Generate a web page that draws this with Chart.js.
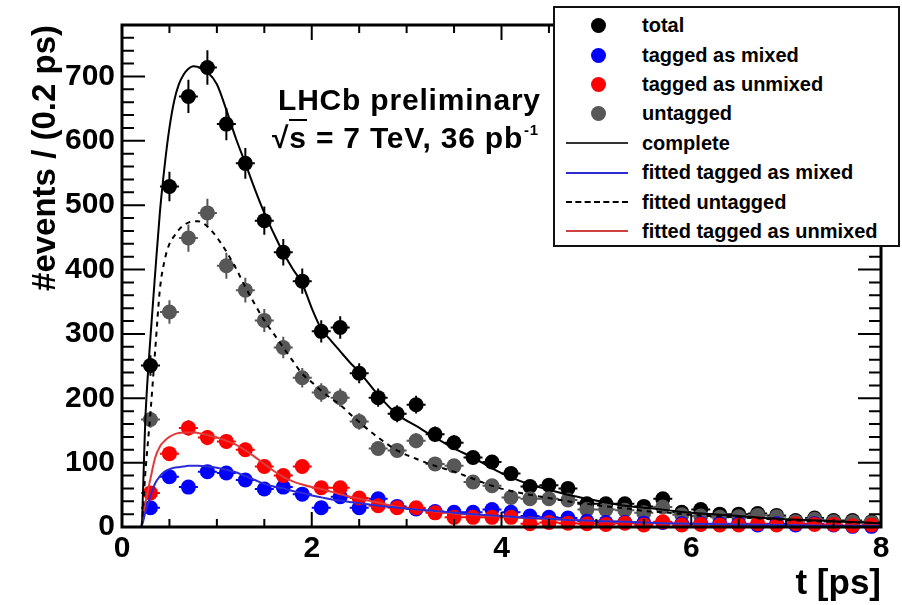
<!DOCTYPE html>
<html>
<head>
<meta charset="utf-8">
<title>Decay time distribution</title>
<script src="https://cdn.jsdelivr.net/npm/chart.js@4.4.0/dist/chart.umd.min.js"></script>
<style>
  body { margin: 0; background: #fff; }
  #wrap {
    position: relative; width: 902px; height: 605px;
    font-family: 'Liberation Sans', Arial, sans-serif; font-weight: bold; color: #000;
  }
  #chart { position: absolute; left: 0; top: 0; }
  .label { position: absolute; font-size: 30px; line-height: 30px; white-space: nowrap; letter-spacing: 0.8px; }
  .ov { border-top: 2.5px solid #000; }
  .sup { position: relative; top: -13px; font-size: 15px; margin-left: 1px; }
  #legend {
    position: absolute; left: 553px; top: 6px; width: 347px; height: 241px;
    box-sizing: border-box; border: 2px solid #111; background: #fff; padding-top: 3px;
  }
  .row { height: 29.4px; display: flex; align-items: center; font-size: 20px; white-space: nowrap; }
  .sym { width: 87px; height: 100%; position: relative; flex: none; }
  .dot { position: absolute; left: 36px; top: 50%; width: 15px; height: 15px; margin-top: -7.5px; border-radius: 50%; }
  .ln { position: absolute; left: 11px; width: 62px; top: 50%; margin-top: -1px; border-top: 2px solid; }
</style>
</head>
<body>
<div id="wrap">
  <canvas id="chart" width="902" height="605"></canvas>
  <div class="label" style="left:278px; top:85px;">LHCb preliminary</div>
  <div class="label" style="left:272px; top:123px;">√<span class="ov">s</span> = 7 TeV, 36 pb<span class="sup">-1</span></div>
  <div id="legend"></div>
</div>
<script>
// ---- Data ----
const binWidth = 0.2; // ps
const binCentres = [0.3, 0.5, 0.7, 0.9, 1.1, 1.3, 1.5, 1.7, 1.9, 2.1, 2.3, 2.5, 2.7, 2.9, 3.1, 3.3, 3.5, 3.7, 3.9, 4.1,
    4.3, 4.5, 4.7, 4.9, 5.1, 5.3, 5.5, 5.7, 5.9, 6.1, 6.3, 6.5, 6.7, 6.9, 7.1, 7.3, 7.5, 7.7, 7.9];

const totalEvents = [251, 529, 669, 714, 626, 565, 476, 427, 382, 304, 310, 239, 201, 176, 190, 144, 131, 108, 101, 83,
    63, 65, 60, 36, 36, 36, 32, 44, 23, 27, 20, 20, 21, 18, 10, 14, 10, 10, 8];
const mixedEvents = [30, 78, 62, 86, 84, 73, 59, 62, 51, 30, 47, 30, 44, 32, 28, 24, 23, 23, 27, 23,
    17, 15, 14, 9, 7, 7, 6, 7, 5, 5, 5, 5, 3, 5, 3, 5, 3, 1, 1];
const unmixedEvents = [53, 114, 154, 139, 133, 120, 94, 80, 94, 61, 61, 45, 33, 30, 30, 22, 15, 15, 15, 15,
    5, 7, 6, 5, 4, 6, 3, 8, 3, 4, 3, 3, 5, 3, 5, 4, 4, 2, 3];
const untaggedEvents = [167, 334, 449, 488, 406, 368, 321, 279, 232, 209, 201, 164, 122, 119, 134, 98, 95, 70, 64, 46,
    44, 44, 42, 27, 27, 26, 22, 31, 19, 17, 15, 16, 18, 16, 8, 12, 8, 8, 7];

// fitted curves
const fitTimes = [0, 0.2, 0.25, 0.3, 0.35, 0.4, 0.45, 0.5, 0.55, 0.6, 0.65, 0.7, 0.75, 0.8, 0.9, 1.0, 1.1, 1.2, 1.3, 1.4,
    1.5, 1.6, 1.7, 1.8, 1.9, 2.0, 2.1, 2.2, 2.3, 2.4, 2.5, 2.7, 2.9, 3.1, 3.3, 3.5, 3.7, 3.9, 4.1, 4.3,
    4.5, 4.7, 4.9, 5.1, 5.3, 5.5, 5.7, 6.0, 6.5, 7.0, 7.5, 8.0];
const fitComplete = [0, 0, 180, 295, 395, 490, 562, 620, 662, 688, 703, 712, 716, 715, 707, 688, 648, 604, 565, 525,
    488, 456, 426, 401, 378, 340, 308, 290, 273, 256, 241, 205, 175, 157, 139, 122, 108, 91, 77, 66,
    58, 50, 44, 38, 33, 30, 27, 22, 17, 12, 9, 6];
const fitMixed = [0, 0, 25, 48, 68, 79, 86, 90, 92, 93, 94, 95, 95, 95, 94, 92, 89, 85, 79, 73,
    67, 63, 60, 56, 53, 49, 46, 43, 41, 39, 37, 33, 30, 27, 25, 22, 20, 18, 16, 14,
    13, 11, 10, 9, 8, 7, 6, 5, 4, 3, 2, 2];
const fitUntagged = [0, 0, 92, 178, 275, 370, 415, 440, 452, 462, 469, 473, 475, 475, 467, 450, 428, 402, 373, 346,
    321, 300, 279, 258, 238, 225, 212, 200, 190, 176, 163, 139, 119, 106, 95, 86, 75, 64, 56, 50,
    45, 40, 36, 32, 29, 25, 23, 19, 15, 11, 8, 6];
const fitUnmixed = [0, 0, 40, 75, 108, 125, 134, 140, 144, 146, 147, 147, 147, 146, 143, 139, 134, 128, 119, 109,
    98, 87, 78, 71, 66, 62, 59, 55, 51, 47, 44, 38, 31, 27, 24, 21, 19, 17, 15, 14,
    12, 11, 10, 9, 8, 7, 6, 5, 4, 3, 2, 2];

const yTickLabels = ['0', '100', '200', '300', '400', '500', '600', '700'];
const xTickLabels = ['0', '2', '4', '6', '8'];

// ---- Helpers ----
const toPoints = (xs, ys) => xs.map((x, i) => ({ x: x, y: ys[i] }));

const pointSet = (label, values, color, order) => ({
    label: label,
    data: toPoints(binCentres, values),
    backgroundColor: color,
    pointBackgroundColor: color,
    pointBorderWidth: 0,
    pointRadius: 7.5,
    showLine: false,
    errorBars: true,
    clip: false,
    order: order
});

const curveSet = (label, values, color, dash, order) => ({
    label: label,
    data: toPoints(fitTimes, values),
    borderColor: color,
    borderWidth: 2,
    borderDash: dash,
    pointRadius: 0,
    showLine: true,
    cubicInterpolationMode: 'monotone',
    order: order
});

// ---- Plugins ----
// sqrt(N) vertical bars and half-bin horizontal bars, drawn under each marker set
const errorBars = {
    id: 'errorBars',
    beforeDatasetDraw(chart, args) {
        const ds = chart.data.datasets[args.index];
        if (!ds.errorBars) return;
        const { ctx, scales: { x, y } } = chart;
        ctx.save();
        ctx.strokeStyle = ds.backgroundColor;
        ctx.lineWidth = 2;
        ctx.beginPath();
        ds.data.forEach(p => {
            const err = Math.sqrt(p.y);
            const px = x.getPixelForValue(p.x);
            const py = y.getPixelForValue(p.y);
            ctx.moveTo(px, y.getPixelForValue(p.y - err));
            ctx.lineTo(px, y.getPixelForValue(p.y + err));
            ctx.moveTo(x.getPixelForValue(p.x - binWidth / 2), py);
            ctx.lineTo(x.getPixelForValue(p.x + binWidth / 2), py);
        });
        ctx.stroke();
        ctx.restore();
    }
};

// ROOT-like frame with inward ticks on all four sides
const rootFrame = {
    id: 'rootFrame',
    afterDatasetsDraw(chart) {
        const { ctx, chartArea: a, scales: { x, y } } = chart;
        ctx.save();
        ctx.strokeStyle = '#000';
        ctx.lineWidth = 2;
        ctx.beginPath();
        for (let i = 0; i <= 39; i++) {
            const v = i * 20;
            const py = y.getPixelForValue(v);
            const len = v % 100 === 0 ? 23 : 12;
            ctx.moveTo(a.left, py); ctx.lineTo(a.left + len, py);
            ctx.moveTo(a.right, py); ctx.lineTo(a.right - len, py);
        }
        for (let i = 0; i <= 16; i++) {
            const v = i * 0.5;
            const px = x.getPixelForValue(v);
            const len = i % 4 === 0 ? 15 : 8;
            ctx.moveTo(px, a.bottom); ctx.lineTo(px, a.bottom - len);
            ctx.moveTo(px, a.top); ctx.lineTo(px, a.top + len);
        }
        ctx.stroke();
        ctx.lineWidth = 3;
        ctx.strokeRect(a.left, a.top, a.right - a.left, a.bottom - a.top);
        ctx.restore();
    }
};

// ---- Chart ----
const fontFamily = "'Liberation Sans', Arial, sans-serif";
Chart.defaults.font.family = fontFamily;
Chart.defaults.color = '#000';

new Chart(document.getElementById('chart'), {
    type: 'scatter',
    data: {
        datasets: [
            pointSet('total', totalEvents, '#000000', 8),
            pointSet('tagged as mixed', mixedEvents, '#0000ff', 6),
            pointSet('tagged as unmixed', unmixedEvents, '#ff0000', 5),
            pointSet('untagged', untaggedEvents, '#575757', 7),
            curveSet('complete', fitComplete, '#000000', [], 1),
            curveSet('fitted tagged as mixed', fitMixed, '#2b2bd6', [], 3),
            curveSet('fitted untagged', fitUntagged, '#000000', [5, 5], 2),
            curveSet('fitted tagged as unmixed', fitUnmixed, '#e03a3a', [], 4)
        ]
    },
    options: {
        responsive: false,
        animation: false,
        devicePixelRatio: 1,
        layout: { padding: { top: 25, right: 21, left: 0, bottom: 0 } },
        plugins: { legend: { display: false }, tooltip: { enabled: false } },
        scales: {
            x: {
                type: 'linear', min: 0, max: 8,
                grid: { display: false, drawTicks: false },
                border: { display: false },
                ticks: {
                    stepSize: 2, padding: 4, maxRotation: 0, autoSkip: false, includeBounds: false,
                    font: { size: 30, weight: 'bold' },
                    callback: v => xTickLabels.includes(String(v)) ? String(v) : ''
                },
                title: {
                    display: true, text: 't [ps]', align: 'end',
                    font: { size: 35, weight: 'bold', lineHeight: 1.1 },
                    padding: { top: 0, bottom: 1 }
                },
                afterFit: s => { s.height = 78; }
            },
            y: {
                type: 'linear', min: 0, max: 780,
                grid: { display: false, drawTicks: false },
                border: { display: false },
                ticks: {
                    stepSize: 100, padding: 7, autoSkip: false, includeBounds: false,
                    font: { size: 30, weight: 'bold' },
                    callback: v => yTickLabels.includes(String(v)) ? String(v) : ''
                },
                title: {
                    display: true, text: '#events / (0.2 ps)', align: 'end',
                    font: { size: 33, weight: 'bold', lineHeight: 1.2 },
                    padding: { top: 26, bottom: 0 }
                },
                afterFit: s => { s.width = 122; }
            }
        }
    },
    plugins: [errorBars, rootFrame]
});

// ---- Legend (same order as the datasets) ----
const legendItems = [
    { text: 'total', dot: '#000000' },
    { text: 'tagged as mixed', dot: '#0000ff' },
    { text: 'tagged as unmixed', dot: '#ff0000' },
    { text: 'untagged', dot: '#575757' },
    { text: 'complete', line: '#333333', style: 'solid' },
    { text: 'fitted tagged as mixed', line: '#2b2bd6', style: 'solid' },
    { text: 'fitted untagged', line: '#000000', style: 'dashed' },
    { text: 'fitted tagged as unmixed', line: '#d04040', style: 'solid' }
];
const legend = document.getElementById('legend');
legendItems.forEach(item => {
    const row = document.createElement('div');
    row.className = 'row';
    const sym = document.createElement('span');
    sym.className = 'sym';
    const mark = document.createElement('span');
    if (item.dot) {
        mark.className = 'dot';
        mark.style.background = item.dot;
    } else {
        mark.className = 'ln';
        mark.style.borderTopColor = item.line;
        mark.style.borderTopStyle = item.style;
    }
    sym.appendChild(mark);
    const txt = document.createElement('span');
    txt.textContent = item.text;
    row.appendChild(sym);
    row.appendChild(txt);
    legend.appendChild(row);
});
</script>
</body>
</html>
